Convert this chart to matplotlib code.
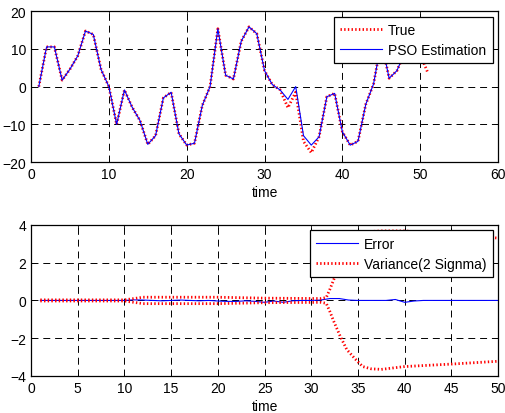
import matplotlib
matplotlib.use('Agg')
import matplotlib.pyplot as plt

plt.rcParams['font.family'] = ['Liberation Sans', 'DejaVu Sans']
plt.rcParams['font.size'] = 10
plt.rcParams['lines.scale_dashes'] = False

# top panel: true state vs PSO estimate
t_true = list(range(1, 52))
true_vals = [0, 10.5, 10.5, 1.7, 4.6, 8.1, 14.7, 13.8, 4.5, 0,
             -10, -0.9, -5.5, -9, -15.3, -13, -3, -1.5, -12.5, -15.5,
             -15, -5, 0, 15.3, 3, 2, 12, 15.8, 14, 4.2,
             0.5, -0.9, -5.6, -1.5, -14.5, -17.5, -13.3, -2.7, -1.8, -12,
             -15.5, -14.5, -4.7, 0.7, 12, 2.2, 4.2, 9, 12, 8.5,
             3.5]
t_est = list(range(1, 51))
est_vals = [0, 10.5, 10.5, 1.7, 4.6, 8.1, 14.7, 13.8, 4.5, 0,
            -10, -0.9, -5.5, -9, -15.3, -13, -3, -1.5, -12.5, -15.5,
            -15, -5, 0, 15.3, 3, 2, 12, 15.8, 14, 4.2,
            0.5, -0.9, -3.4, 0, -13, -15.5, -13.3, -2.7, -1.8, -12,
            -15.5, -14.5, -4.7, 0.7, 12, 2.2, 4.2, 9, 12, 8.5]

# bottom panel: error and 2-sigma band
t_err = list(range(1, 51))
err_vals = [0, 0, 0, 0, 0, 0, 0, 0, 0, 0,
            0.03, 0.02, 0, -0.02, 0, 0.02, 0, -0.02, 0, -0.03,
            -0.05, -0.05, -0.02, -0.05, -0.1, -0.03, -0.1, -0.02, 0, 0,
            0.02, 0.1, 0.1, 0.02, 0, 0, 0, 0, 0.05, -0.1,
            -0.03, 0, 0, 0, 0, 0, 0, 0, 0, 0]
t_var = [1, 10, 11, 12, 20, 25, 31, 31.6, 32, 32.4, 33.1, 33.8, 34.7,
         35.5, 36.4, 37.5, 40, 45, 50]
var_up = [0.03, 0.03, 0.1, 0.17, 0.17, 0.12, 0.1, 0.15, 0.6, 1.1, 1.9,
          2.6, 3.1, 3.5, 3.65, 3.68, 3.68, 3.5, 3.3]
var_low = [-0.03, -0.03, -0.1, -0.17, -0.17, -0.12, -0.1, -0.15, -0.6,
           -1.1, -1.9, -2.6, -3.1, -3.5, -3.62, -3.65, -3.5, -3.37, -3.22]

fig = plt.figure(figsize=(5.05, 4.14), dpi=100)
ax1 = fig.add_axes([0.0614, 0.606, 0.925, 0.365])
ax2 = fig.add_axes([0.0614, 0.0894, 0.925, 0.365])


def style_axes(ax):
    ax.grid(True, color='k', linewidth=0.7, dashes=(5, 3.5))
    ax.tick_params(direction='in', length=3, width=0.6, top=True, right=True,
                   labelsize=10, pad=3.5)
    for sp in ax.spines.values():
        sp.set_linewidth(0.9)
    ax.set_xlabel('time', fontsize=10, labelpad=3)


def add_legend(ax):
    leg = ax.legend(loc='upper right', fancybox=False, edgecolor='k',
                    framealpha=1, handlelength=3.0, handletextpad=0.45,
                    borderpad=0.45, borderaxespad=0.4, labelspacing=0.45)
    leg.get_frame().set_linewidth(0.9)


ax1.plot(t_true, true_vals, color='red', linestyle=':', linewidth=2, label='True')
ax1.plot(t_est, est_vals, color='blue', linewidth=0.8, label='PSO Estimation')
ax1.set_xlim(0, 60)
ax1.set_ylim(-20, 20)
ax1.set_xticks(range(0, 61, 10))
ax1.set_yticks(range(-20, 21, 10))
style_axes(ax1)
add_legend(ax1)

ax2.plot(t_err, err_vals, color='blue', linewidth=0.8, label='Error')
ax2.plot(t_var, var_up, color='red', linestyle=':', linewidth=2,
         label='Variance(2 Signma)')
ax2.plot(t_var, var_low, color='red', linestyle=':', linewidth=2)
ax2.set_xlim(0, 50)
ax2.set_ylim(-4, 4)
ax2.set_xticks(range(0, 51, 5))
ax2.set_yticks(range(-4, 5, 2))
style_axes(ax2)
add_legend(ax2)

fig.savefig('out.png', dpi=100)
